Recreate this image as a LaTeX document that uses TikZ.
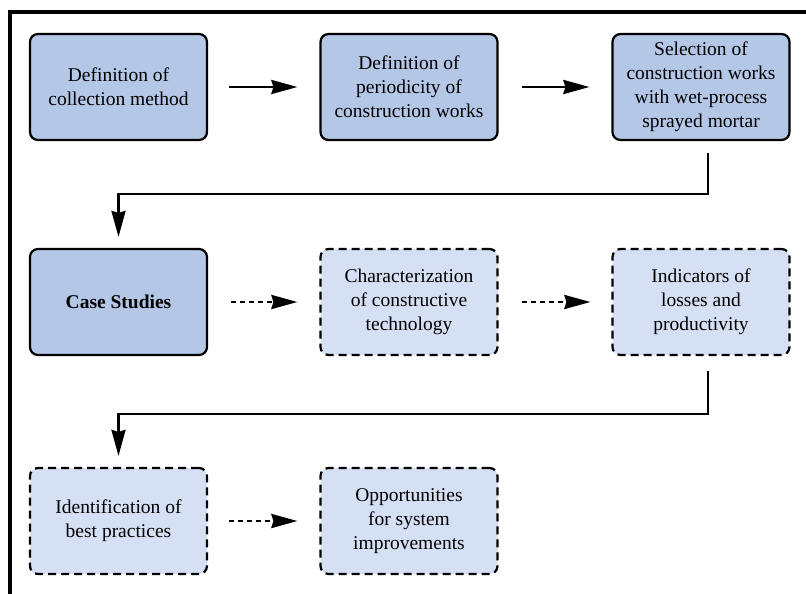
\documentclass[tikz,border=0pt]{standalone}
\usepackage{fontspec}
\setmainfont{Liberation Serif}
\usetikzlibrary{arrows.meta}
\definecolor{boxA}{HTML}{B4C7E7}
\definecolor{boxB}{HTML}{D6E0F4}
\begin{document}
\begin{tikzpicture}[x=1pt,y=-1pt,
  box/.style={draw, line width=2.2pt, rounded corners=8pt, minimum width=177pt, minimum height=106pt,
    align=center, font=\fontsize{19.5}{24}\selectfont, inner sep=0pt},
  solidbox/.style={box, fill=boxA},
  dashbox/.style={box, fill=boxB, dash pattern=on 8pt off 5pt},
  arr/.style={line width=2.6pt, -{Stealth[length=26pt,width=14pt,inset=2pt]}},
  darr/.style={arr, dash pattern=on 5pt off 4pt},
]
\useasboundingbox (0,0) rectangle (806,594);
\fill[white] (0,0) rectangle (806,594);
\draw[line width=3.2pt] (806,12) -- (10,12) -- (10,594);

\node[solidbox] (b1) at (118.5,87) {Definition of\\collection method};
\node[solidbox] (b2) at (409,87) {Definition of\\periodicity of\\construction works};
\node[solidbox] (b3) at (701,87) {Selection of\\construction works\\with wet-process\\sprayed mortar};

\node[solidbox] (b4) at (118.5,302) {\bfseries Case Studies};
\node[dashbox] (b5) at (409,302) {Characterization\\of constructive\\technology};
\node[dashbox] (b6) at (701,302) {Indicators of\\losses and\\productivity};

\node[dashbox] (b7) at (118.5,521) {Identification of\\best practices};
\node[dashbox] (b8) at (409,521) {Opportunities\\for system\\improvements};

\draw[arr] ([xshift=21pt]b1.east) -- ([xshift=-22pt]b2.west);
\draw[arr] ([xshift=23pt]b2.east) -- ([xshift=-22pt]b3.west);
\draw[darr] ([xshift=23pt]b4.east) -- ([xshift=-22pt]b5.west);
\draw[darr] ([xshift=23pt]b5.east) -- ([xshift=-21pt]b6.west);
\draw[darr] ([xshift=21pt]b7.east) -- ([xshift=-22pt]b8.west);

\draw[arr] ([shift={(7pt,-12pt)}]b3.south) -- ++(0,41) -| ([yshift=11pt]b4.north);
\draw[arr] ([shift={(7pt,-15pt)}]b6.south) -- ++(0,43) -| ([yshift=11pt]b7.north);
\end{tikzpicture}
\end{document}
